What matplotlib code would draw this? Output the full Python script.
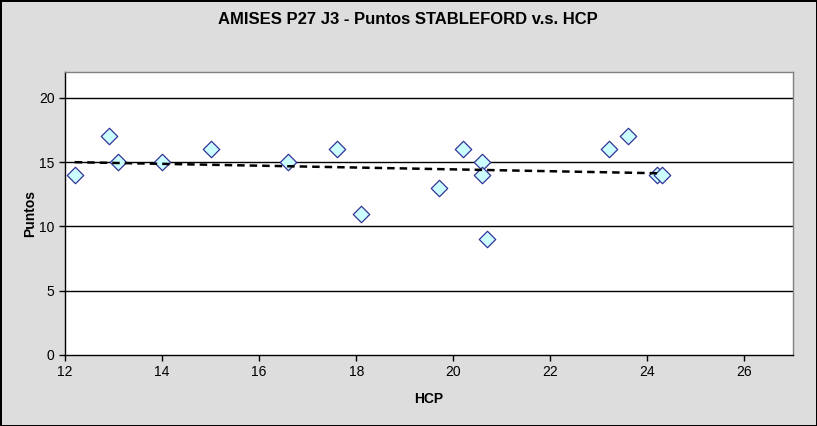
import matplotlib
matplotlib.use("Agg")
import matplotlib.pyplot as plt
import numpy as np

hcp = [12.2, 12.9, 13.1, 14.0, 15.0, 16.6, 17.6, 18.1, 19.7, 20.2, 20.6, 20.6, 20.7, 23.2, 23.6, 24.2, 24.3]
puntos = [14, 17, 15, 15, 16, 15, 16, 11, 13, 16, 15, 14, 9, 16, 17, 14, 14]
x_ticks = [12, 14, 16, 18, 20, 22, 24, 26]
y_ticks = [0, 5, 10, 15, 20]

plt.rcParams['font.family'] = ['Liberation Sans', 'DejaVu Sans']

fig = plt.figure(figsize=(8.17, 4.26), dpi=100)
fig.patch.set_facecolor('#dddddd')
fig.patch.set_edgecolor('black')
fig.patch.set_linewidth(2)

ax = fig.add_axes([65/817, 71/426, (793-65)/817, (355-72)/426])
ax.set_facecolor('white')
for s in ax.spines.values():
    s.set_color('#808080')
    s.set_linewidth(1)
ax.spines['left'].set_color('black')
ax.spines['bottom'].set_color('black')

ax.set_xlim(12, 27)
ax.set_ylim(0, 22)
ax.set_xticks(x_ticks)
ax.set_yticks(y_ticks)
for y in y_ticks[1:]:
    ax.axhline(y, color='black', linewidth=1, zorder=1)

ax.scatter(hcp, puntos, marker='D', s=70, facecolor='#ccffff', edgecolor='#333399', linewidth=0.9, zorder=3)

coef = np.polyfit(hcp, puntos, 1)
xs = np.array([min(hcp), max(hcp)])
ax.plot(xs, np.polyval(coef, xs), color='black', linestyle=(0, (3, 2)), linewidth=1.8, zorder=4)

ax.tick_params(direction='out', length=4, width=1, labelsize=10, color='black')
ax.set_xlabel('HCP', fontsize=10, fontweight='bold', labelpad=9)
ax.set_ylabel('Puntos', fontsize=10, fontweight='bold', labelpad=1)
fig.text(408/817, 1 - 20/426, 'AMISES P27 J3 - Puntos STABLEFORD v.s. HCP', ha='center', va='center', fontsize=12, fontweight='bold')

fig.savefig('out.png', dpi=100, facecolor=fig.get_facecolor(), edgecolor=fig.get_edgecolor())
